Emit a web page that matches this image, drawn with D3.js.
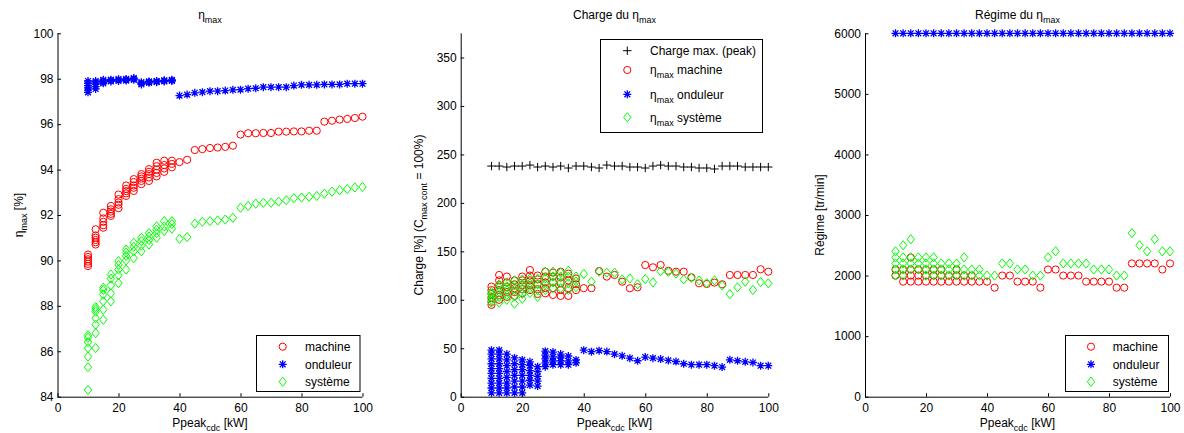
<!DOCTYPE html>
<html><head><meta charset="utf-8">
<script src="https://cdn.jsdelivr.net/npm/d3@7"></script>
<style>
body{margin:0;background:#fff}
text{font-family:"Liberation Sans",Arial,Helvetica,sans-serif;fill:#000}
</style>
</head><body>
<svg id="c" width="1184" height="433"></svg>
<script>
// ---------- DATA ----------
const ppeak = [10,12.5,15,17.5,20,22.5,25,27.5,30,32.5,35,37.5,40,42.5,45,47.5,50,52.5,55,57.5,60,62.5,65,67.5,70,72.5,75,77.5,80,82.5,85,87.5,90,92.5,95,97.5,100];
const xTicks = [0,20,40,60,80,100];

// Panel 1 : eta max [%]
const etaMachine = [
  [89.75,89.85,89.95,90.05,90.15,90.26],[90.7,90.8,90.9,91.0,91.1,91.37],[91.44,91.55,91.7,91.85,92.1],
  [91.96,92.05,92.15,92.25,92.4],[92.3,92.45,92.55,92.7,92.9],[92.84,92.95,93.05,93.15,93.3],
  [93.06,93.2,93.3,93.45,93.58],[93.36,93.5,93.6,93.7,93.8],[93.5,93.65,93.8,93.9,94.02],
  [93.7,93.85,94.0,94.15,94.3],[93.9,94.05,94.2,94.39],[94.1,94.25,94.39],
  94.33,94.43,94.86,94.9,94.95,94.97,95.0,95.05,95.54,95.6,95.6,95.61,95.61,95.67,95.67,95.68,95.68,95.71,95.71,
  96.11,96.15,96.2,96.23,96.27,96.33];
const etaOnduleur = [
  [97.4,97.5,97.6,97.7,97.8,97.9],[97.55,97.65,97.75,97.85,97.9],[97.8,97.85,97.9,97.95],
  [97.88,97.92,97.96],[97.9,97.95,97.98],[97.92,97.96,97.99],[97.95,98.0,98.03],
  [97.75,97.8,97.85],[97.82,97.86,97.88],[97.85,97.88,97.9],[97.88,97.91,97.93],[97.9,97.93,97.95],
  97.26,97.3,97.38,97.41,97.45,97.45,97.48,97.51,97.52,97.56,97.58,97.63,97.63,97.63,97.63,97.7,97.73,97.73,97.73,
  97.75,97.75,97.75,97.78,97.78,97.78];
const etaSysteme = [
  [84.3,85.3,85.77,86.14,86.4,86.6,86.7],[86.14,86.8,87.17,87.46,87.75,87.85,87.95],[87.39,87.83,88.2,88.5,88.7,88.8],
  [88.2,88.55,88.9,89.2,89.38],[89.0,89.35,89.6,89.8,89.97],[89.6,90.0,90.2,90.35,90.48],
  [90.1,90.4,90.6,90.78],[90.4,90.65,90.85,91.0],[90.7,90.9,91.05,91.2],[91.0,91.2,91.35,91.5],
  [91.3,91.5,91.73],[91.4,91.6,91.73],
  90.95,91.03,91.62,91.7,91.73,91.76,91.8,91.88,92.32,92.4,92.5,92.54,92.54,92.59,92.65,92.74,92.77,92.8,92.84,
  92.94,93.03,93.09,93.14,93.21,93.24];
const etaTicks = [84,86,88,90,92,94,96,98,100];

// Panel 2 : charge [%]
const chargePeak = [238,238,237,238,238,239,237,238,237,238,236,238,238,237,236,239,238,238,237,237,236,238,239,238,238,237,237,236,236,235,238,238,238,237,237,237,237];
const chargeMachine = [
  [94.7,98,102,106,110,113.6],[100,105,110,115,120,125.6],[103,108,113,118,124],[104,108,112,116,120],
  [106.7,111,115,120,124],[110,115,120,125,130.7],[106,111,116,121,125],[106.7,112,118,124,129],
  [105,112,118,124,128],[104,110,117,123,129],[104,112,120,127],[110,116,122],
  112,112,129.7,123.9,125.6,118.7,111.9,112.9,135.9,133.5,135.9,130,129,129,123.2,117,116.3,117.7,116,
  125.6,125.6,125.6,125.6,131.5,129];
const chargeOnduleur = [
  [4,9,14,19,24,29,34,39,44,48],[4,9,14,19,24,29,34,39,44,48],[4,9,14,20,26,32,38,44],[4,10,16,22,28,34,40],
  [4,10,16,22,28,33,38],[12,17,22,27,32,36],[11,16,21,26,31],[31,35,39,43,47],[33,37,41,46],[33,37,40,44],
  [33,37,42],[35,38],
  48,46.5,47.5,46.6,43.9,42.2,39.8,37.1,40.9,39.8,38.8,37.4,36.3,34,33,33,33,32,30.6,38.1,37.1,36,35.3,32,32];
const chargeSysteme = [
  [97,100,103,106,108],[97,103,108,113,116],[100,105,110,114,118],[96,104,110,115,120],[101,106,111,116,121],
  [107,112,117,122],[103,110,116,122],[110,116,122,129],[112,118,124,129],[112,118,124,128],[110,117,124,130],
  [113,119,124],
  126.6,118.7,129,128,128,121,122,116,121.3,118,129.5,128.8,127,121,122.7,120,117.3,120,114.8,105.8,112.9,118.7,
  110.2,118.3,117];
const chargeTicks = [0,50,100,150,200,250,300,350];

// Panel 3 : regime [tr/min]
const regimeMachine = [
  [2000,2100],[1900,2000,2100],[1900,2000,2100,2300],[1900,2000,2100],[1900,2000,2100],[1900,2000,2100],
  [1900,2000,2100],[1900,2000],[1900,2000,2100],[1900,2000],[1900,2000],[1900],
  1900,1800,2000,2000,1900,1900,1900,1800,2100,2100,2000,2000,2000,1900,1900,1900,1900,1800,1800,
  2200,2200,2200,2200,2100,2200];
const regimeOnduleur = [6000,6000,6000,6000,6000,6000,6000,6000,6000,6000,6000,6000,6000,6000,6000,6000,6000,6000,6000,6000,6000,6000,6000,6000,6000,6000,6000,6000,6000,6000,6000,6000,6000,6000,6000,6000,6000];
const regimeSysteme = [
  [2000,2100,2200,2300,2400],[2000,2100,2200,2300,2500],[2100,2200,2300,2600],[2100,2200,2300],
  [2000,2100,2200,2300],[2000,2100,2200,2300],[2000,2100,2200],[2000,2100,2200],[2000,2100,2200],
  [2000,2100,2300],[2000,2100],[2000,2100],
  2000,2000,2200,2200,2100,2100,2000,2000,2300,2400,2200,2200,2200,2200,2100,2100,2100,2000,2000,
  2700,2500,2400,2600,2400,2400];
const regimeTicks = [0,1000,2000,3000,4000,5000,6000];

// ---------- DRAWING ----------
const svg = d3.select("#c");
const FS = 12, SUB = 9;
const COLORS = {machine:"#ff0000", onduleur:"#0000ff", systeme:"#00ff00", peak:"#000000"};

const markerPath = {
  circle: "M3.6,0A3.6,3.6 0 1,1 -3.6,0A3.6,3.6 0 1,1 3.6,0Z",
  star: "M-4,0H4M0,-4V4M-2.9,-2.9L2.9,2.9M-2.9,2.9L2.9,-2.9",
  diamond: "M0,-4.6L3.7,0L0,4.6L-3.7,0Z",
  plus: "M-4.2,0H4.2M0,-4.2V4.2"
};
const markerWidth = {circle:1, star:1.3, diamond:1, plus:1};

function flatten(xs, ys){
  const pts = [];
  ys.forEach((v,i)=>{ (Array.isArray(v)?v:[v]).forEach(y=>pts.push([xs[i], y])); });
  return pts;
}

function rich(g, parts, attrs){
  const t = g.append("text");
  Object.entries(attrs||{}).forEach(([k,v])=>t.attr(k,v));
  let shifted = 0;
  parts.forEach(p=>{
    const s = t.append("tspan").text(p.t);
    if(p.sub){ s.attr("font-size", SUB).attr("dy", 4 - shifted); shifted = 4; }
    else { if(shifted){ s.attr("dy", -shifted); shifted = 0; } }
  });
  return t;
}

function drawMarker(g, type, color, x, y){
  g.append("path").attr("d", markerPath[type]).attr("transform",`translate(${x},${y})`)
    .attr("fill","none").attr("stroke", color).attr("stroke-width", markerWidth[type]);
}

function panel(cfg){
  const g = svg.append("g");
  const x = d3.scaleLinear().domain([0,100]).range([cfg.left, cfg.right]);
  const y = d3.scaleLinear().domain(cfg.yDomain).range([cfg.bottom, cfg.top]);

  // series
  cfg.series.forEach(s=>{
    const pts = flatten(ppeak, s.data);
    g.append("g").selectAll("path").data(pts).join("path")
      .attr("d", markerPath[s.marker])
      .attr("transform", d=>`translate(${x(d[0])},${y(d[1])})`)
      .attr("fill","none").attr("stroke", s.color).attr("stroke-width", markerWidth[s.marker]);
  });

  // axes
  const ax = g.append("g").attr("transform",`translate(0,${cfg.bottom})`)
    .call(d3.axisBottom(x).tickValues(xTicks).tickFormat(d3.format("d")).tickSizeInner(-3.5).tickSizeOuter(0).tickPadding(6.5));
  const ay = g.append("g").attr("transform",`translate(${cfg.left},0)`)
    .call(d3.axisLeft(y).tickValues(cfg.yTicks).tickFormat(d3.format("d")).tickSizeInner(-3.5).tickSizeOuter(0).tickPadding(4));
  [ax, ay].forEach(a=>{
    a.selectAll("text").attr("font-size", FS).attr("font-family",'"Liberation Sans",Arial,sans-serif').attr("fill","#000");
    a.selectAll("line,path").attr("stroke","#000");
  });
  ax.select(".domain").attr("d", `M${cfg.left},0.5H${cfg.right}`);
  ay.select(".domain").attr("d", `M0.5,${cfg.top}V${cfg.bottom}`);

  const cx = (cfg.left + cfg.right)/2, cy = (cfg.top + cfg.bottom)/2;
  rich(g, cfg.title, {x: cx, y: 18.5, "text-anchor":"middle", "font-size": FS});
  rich(g, [{t:"Ppeak"},{t:"cdc",sub:true},{t:" [kW]"}], {x: cx, y: 427, "text-anchor":"middle", "font-size": FS});
  rich(g, cfg.ylabel, {transform:`translate(${cfg.ylabelX},${cy}) rotate(-90)`, "text-anchor":"middle", "font-size": FS});

  // legend
  const L = cfg.legend;
  const lg = g.append("g");
  lg.append("rect").attr("x", L.x).attr("y", L.y).attr("width", L.w).attr("height", L.h)
    .attr("fill","#fff").attr("stroke","#000").attr("stroke-width",1);
  L.items.forEach(it=>{
    drawMarker(lg, it.marker, it.color, L.mx, it.y);
    rich(lg, it.label, {x: L.tx, y: it.y + 4.3, "font-size": FS});
  });
}

panel({
  left:57.5, right:362.5, top:33.3, bottom:396.7, yDomain:[84,100], yTicks:etaTicks,
  title:[{t:"η"},{t:"max",sub:true}], ylabel:[{t:"η"},{t:"max",sub:true},{t:" [%]"}], ylabelX:23,
  series:[
    {data:etaMachine, marker:"circle", color:COLORS.machine},
    {data:etaOnduleur, marker:"star", color:COLORS.onduleur},
    {data:etaSysteme, marker:"diamond", color:COLORS.systeme}
  ],
  legend:{x:256.5, y:335.5, w:103.5, h:56, mx:282.7, tx:305, items:[
    {marker:"circle", color:COLORS.machine, y:346.7, label:[{t:"machine"}]},
    {marker:"star", color:COLORS.onduleur, y:364.3, label:[{t:"onduleur"}]},
    {marker:"diamond", color:COLORS.systeme, y:381.7, label:[{t:"système"}]}
  ]}
});

panel({
  left:460.7, right:768.3, top:33.3, bottom:396.7, yDomain:[0,375], yTicks:chargeTicks,
  title:[{t:"Charge du η"},{t:"max",sub:true}],
  ylabel:[{t:"Charge [%] (C"},{t:"max cont",sub:true},{t:" = 100%)"}], ylabelX:423,
  series:[
    {data:chargePeak, marker:"plus", color:COLORS.peak},
    {data:chargeMachine, marker:"circle", color:COLORS.machine},
    {data:chargeOnduleur, marker:"star", color:COLORS.onduleur},
    {data:chargeSysteme, marker:"diamond", color:COLORS.systeme}
  ],
  legend:{x:600.5, y:39.5, w:162, h:93, mx:627.3, tx:650, items:[
    {marker:"plus", color:COLORS.peak, y:50.7, label:[{t:"Charge max. (peak)"}]},
    {marker:"circle", color:COLORS.machine, y:70, label:[{t:"η"},{t:"max",sub:true},{t:" machine"}]},
    {marker:"star", color:COLORS.onduleur, y:94.3, label:[{t:"η"},{t:"max",sub:true},{t:" onduleur"}]},
    {marker:"diamond", color:COLORS.systeme, y:117.3, label:[{t:"η"},{t:"max",sub:true},{t:" système"}]}
  ]}
});

panel({
  left:865, right:1170, top:33.3, bottom:396.7, yDomain:[0,6000], yTicks:regimeTicks,
  title:[{t:"Régime du η"},{t:"max",sub:true}],
  ylabel:[{t:"Régime [tr/min]"}], ylabelX:824,
  series:[
    {data:regimeMachine, marker:"circle", color:COLORS.machine},
    {data:regimeOnduleur, marker:"star", color:COLORS.onduleur},
    {data:regimeSysteme, marker:"diamond", color:COLORS.systeme}
  ],
  legend:{x:1065.5, y:335.5, w:103, h:56, mx:1091, tx:1112.7, items:[
    {marker:"circle", color:COLORS.machine, y:346.7, label:[{t:"machine"}]},
    {marker:"star", color:COLORS.onduleur, y:364.3, label:[{t:"onduleur"}]},
    {marker:"diamond", color:COLORS.systeme, y:381.7, label:[{t:"système"}]}
  ]}
});
</script>
</body></html>
